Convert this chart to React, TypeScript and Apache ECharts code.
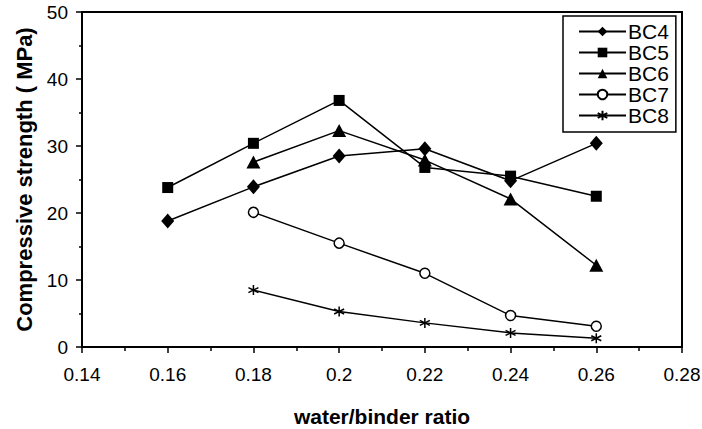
import React, { useEffect, useRef } from "react";
import * as echarts from "echarts";

// water/binder ratios (x) and compressive strength in MPa (y) per mix
const ratios = [0.16, 0.18, 0.2, 0.22, 0.24, 0.26];
const bc4 = [18.8, 23.9, 28.5, 29.6, 24.8, 30.4];
const bc5 = [23.8, 30.4, 36.8, 26.8, 25.5, 22.5];
const bc6 = [null, 27.6, 32.3, 27.9, 22.1, 12.2];
const bc7 = [null, 20.1, 15.5, 11.0, 4.7, 3.1];
const bc8 = [null, 8.5, 5.3, 3.6, 2.1, 1.3];

const seriesNames = ["BC4", "BC5", "BC6", "BC7", "BC8"];
const seriesValues = [bc4, bc5, bc6, bc7, bc8];

const xTicks = { min: 0.14, max: 0.28, step: 0.02 };
const yTicks = { min: 0, max: 50, step: 10 };

const FONT = "'Liberation Sans', Arial, sans-serif";
const ASTERISK = "path://M5,0 L5,10 M0.67,2.5 L9.33,7.5 M0.67,7.5 L9.33,2.5";

const markerStyles: Record<string, any> = {
  BC4: { symbol: "diamond", symbolSize: [13, 15], itemStyle: { color: "#000", borderWidth: 0 } },
  BC5: { symbol: "rect", symbolSize: 11, itemStyle: { color: "#000", borderWidth: 0 } },
  BC6: { symbol: "triangle", symbolSize: [14, 13], itemStyle: { color: "#000", borderWidth: 0 } },
  BC7: { symbol: "circle", symbolSize: 10, itemStyle: { color: "#fff", borderColor: "#000", borderWidth: 1.5 } },
  BC8: { symbol: ASTERISK, symbolSize: 10, itemStyle: { color: "#000", borderColor: "#000", borderWidth: 1.5 } },
};

export default function App() {
  const ref = useRef<HTMLDivElement>(null);

  useEffect(() => {
    if (!ref.current) return;
    const chart = echarts.init(ref.current, null, { renderer: "svg" });

    const series = seriesNames.map((name, i) => ({
      name,
      type: "line",
      data: ratios
        .map((r, j) => [r, seriesValues[i][j]])
        .filter((p) => p[1] !== null),
      lineStyle: { color: "#000", width: 1.5 },
      showSymbol: true,
      ...markerStyles[name],
      z: 3,
    }));

    chart.setOption({
      animation: false,
      backgroundColor: "#fff",
      textStyle: { fontFamily: FONT, color: "#000" },
      grid: {
        left: 82,
        right: 20,
        top: 12,
        bottom: 82,
        show: true,
        borderColor: "#000",
        borderWidth: 2,
        containLabel: false,
        outerBoundsMode: "none",
      },
      legend: {
        data: seriesNames,
        orient: "vertical",
        left: 563,
        top: 16,
        padding: [5, 7, 6, 15],
        itemGap: 0,
        itemWidth: 47,
        itemHeight: 12,
        backgroundColor: "#fff",
        borderColor: "#000",
        borderWidth: 1.5,
        textStyle: { fontFamily: FONT, fontSize: 21, color: "#000", lineHeight: 19, padding: [0, 0, 0, -3] },
      },
      xAxis: {
        type: "value",
        min: xTicks.min,
        max: xTicks.max,
        interval: xTicks.step,
        name: "water/binder ratio",
        nameLocation: "middle",
        nameGap: 59,
        nameTextStyle: { fontFamily: FONT, fontSize: 21, fontWeight: "bold", color: "#000" },
        axisLine: { show: true, lineStyle: { color: "#000", width: 2 } },
        axisTick: { show: true, inside: false, length: 6, lineStyle: { color: "#000", width: 1.5 } },
        minorTick: { show: true, splitNumber: 2, length: 4, lineStyle: { color: "#000", width: 1.5 } },
        axisLabel: {
          fontFamily: FONT,
          fontSize: 19,
          color: "#000",
          margin: 18,
          formatter: (v: number) => String(Number(v.toFixed(2))),
        },
        splitLine: { show: false },
      },
      yAxis: {
        type: "value",
        min: yTicks.min,
        max: yTicks.max,
        interval: yTicks.step,
        name: "Compressive strength ( MPa)",
        nameLocation: "middle",
        nameGap: 41,
        nameTextStyle: { fontFamily: FONT, fontSize: 22, fontWeight: "bold", color: "#000" },
        axisLine: { show: true, lineStyle: { color: "#000", width: 2 } },
        axisTick: { show: true, inside: false, length: 6, lineStyle: { color: "#000", width: 1.5 } },
        minorTick: { show: true, splitNumber: 2, length: 3, lineStyle: { color: "#000", width: 1.5 } },
        axisLabel: { fontFamily: FONT, fontSize: 19, color: "#000", margin: 14 },
        splitLine: { show: false },
      },
      series,
    });

    return () => chart.dispose();
  }, []);

  return (
    <div
      ref={ref}
      style={{ position: "absolute", left: 0, top: 0, width: 702, height: 429 }}
    />
  );
}
